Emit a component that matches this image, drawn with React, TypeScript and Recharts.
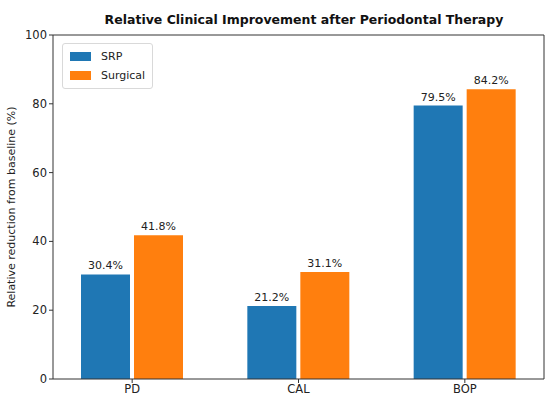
import { Bar, BarChart, LabelList, XAxis, YAxis } from "recharts";

const categories = ["PD", "CAL", "BOP"];
const srpValues = [30.4, 21.2, 79.5];
const surgicalValues = [41.8, 31.1, 84.2];
const yTicks = [0, 20, 40, 60, 80, 100];

const data = categories.map((label, i) => ({
  label,
  srp: srpValues[i],
  surgical: surgicalValues[i],
}));

const FONT = "'DejaVu Sans', sans-serif";
const BLUE = "#1f77b4";
const ORANGE = "#ff7f0e";

const legendItems = [
  { name: "SRP", color: BLUE },
  { name: "Surgical", color: ORANGE },
];

function LegendBox() {
  return (
    <div
      style={{
        position: "absolute",
        left: 62,
        top: 43,
        border: "1px solid #d9d9d9",
        borderRadius: 3,
        background: "#fff",
        padding: "3px 7px 3px 7px",
        fontFamily: FONT,
        fontSize: 11,
        color: "#222",
      }}
    >
      {legendItems.map((it) => (
        <div key={it.name} style={{ display: "flex", alignItems: "center", height: 19 }}>
          <span style={{ width: 21, height: 9, background: it.color, marginRight: 10 }} />
          {it.name}
        </div>
      ))}
    </div>
  );
}

export default function App() {
  return (
    <div style={{ position: "absolute", left: 0, top: 0, width: 550, height: 412, background: "#fff" }}>
      <BarChart
        width={550}
        height={412}
        data={data}
        margin={{ top: 35, right: 6, bottom: 0, left: 18 }}
        barSize={49}
        barGap={4}
      >
        <text
          x={304}
          y={24}
          textAnchor="middle"
          style={{ fontFamily: FONT, fontSize: 12.5, fontWeight: "bold", fill: "#111" }}
        >
          Relative Clinical Improvement after Periodontal Therapy
        </text>
        <text
          transform="translate(15,207) rotate(-90)"
          textAnchor="middle"
          style={{ fontFamily: FONT, fontSize: 11, fill: "#222" }}
        >
          Relative reduction from baseline (%)
        </text>
        <line x1={53} y1={35} x2={544} y2={35} stroke="#333" strokeWidth={1} />
        <line x1={544} y1={35} x2={544} y2={379} stroke="#333" strokeWidth={1} />
        <XAxis
          dataKey="label"
          height={33}
          padding={{ left: -4, right: -4 }}
          tickSize={4}
          tick={{ fontSize: 11.5, fill: "#222", fontFamily: FONT }}
          axisLine={{ stroke: "#333" }}
          tickLine={{ stroke: "#333" }}
        />
        <YAxis
          width={35}
          domain={[0, 100]}
          ticks={yTicks}
          tickSize={4}
          tick={{ fontSize: 11.5, fill: "#222", fontFamily: FONT }}
          axisLine={{ stroke: "#333" }}
          tickLine={{ stroke: "#333" }}
        />
        <Bar dataKey="srp" name="SRP" fill={BLUE} isAnimationActive={false}>
          <LabelList
            dataKey="srp"
            position="top"
            offset={5}
            formatter={(v: any) => `${v}%`}
            style={{ fontSize: 11, fill: "#222", fontFamily: FONT }}
          />
        </Bar>
        <Bar dataKey="surgical" name="Surgical" fill={ORANGE} isAnimationActive={false}>
          <LabelList
            dataKey="surgical"
            position="top"
            offset={5}
            formatter={(v: any) => `${v}%`}
            style={{ fontSize: 11, fill: "#222", fontFamily: FONT }}
          />
        </Bar>
      </BarChart>
      <LegendBox />
    </div>
  );
}
